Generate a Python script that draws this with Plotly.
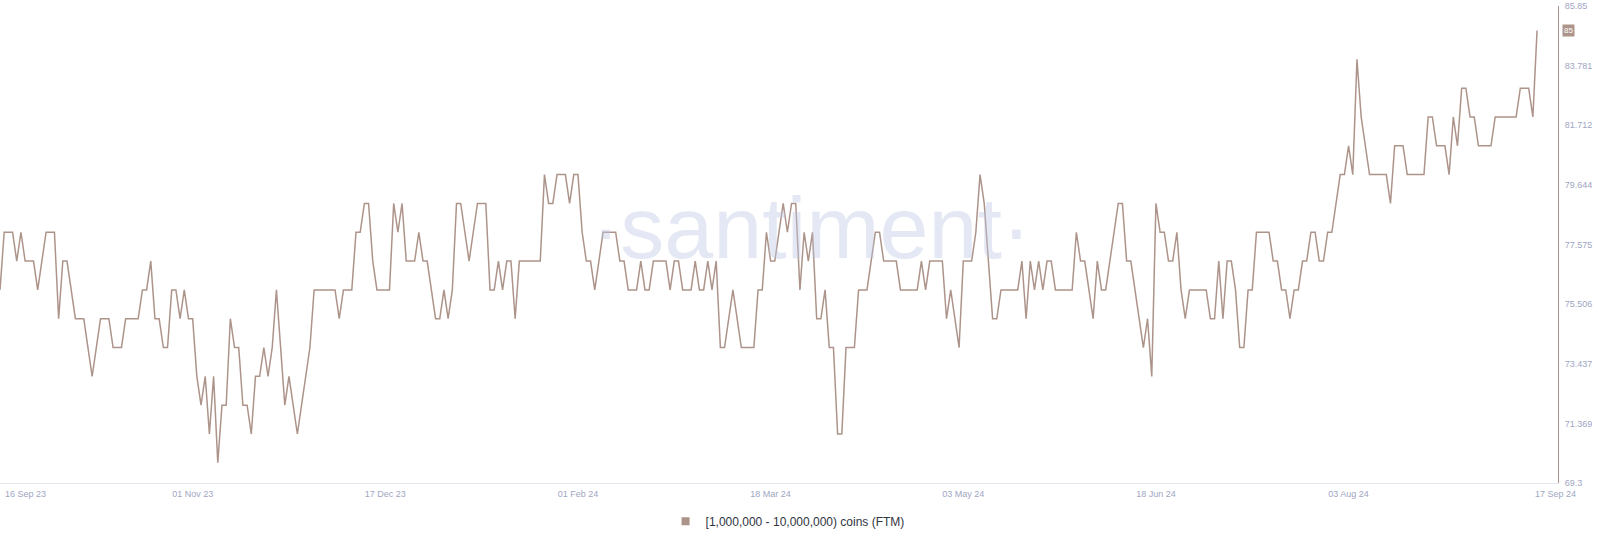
import pandas as pd
import plotly.graph_objects as go

# ---------------- data ----------------
start_date = "2023-09-16"
series_name = "[1,000,000 - 10,000,000) coins (FTM)"

holders = [
    76, 78, 78, 78, 77, 78, 77, 77, 77, 76,
    77, 78, 78, 78, 75, 77, 77, 76, 75, 75,
    75, 74, 73, 74, 75, 75, 75, 74, 74, 74,
    75, 75, 75, 75, 76, 76, 77, 75, 75, 74,
    74, 76, 76, 75, 76, 75, 75, 73, 72, 73,
    71, 73, 70, 72, 72, 75, 74, 74, 72, 72,
    71, 73, 73, 74, 73, 74, 76, 74, 72, 73,
    72, 71, 72, 73, 74, 76, 76, 76, 76, 76,
    76, 75, 76, 76, 76, 78, 78, 79, 79, 77,
    76, 76, 76, 76, 79, 78, 79, 77, 77, 77,
    78, 77, 77, 76, 75, 75, 76, 75, 76, 79,
    79, 78, 77, 78, 79, 79, 79, 76, 76, 77,
    76, 77, 77, 75, 77, 77, 77, 77, 77, 77,
    80, 79, 79, 80, 80, 80, 79, 80, 80, 78,
    77, 77, 76, 77, 78, 78, 78, 78, 77, 77,
    76, 76, 76, 77, 76, 76, 77, 77, 77, 77,
    76, 77, 77, 76, 76, 76, 77, 76, 76, 77,
    76, 77, 74, 74, 75, 76, 75, 74, 74, 74,
    74, 76, 76, 78, 77, 77, 78, 79, 78, 79,
    79, 76, 78, 77, 78, 75, 75, 76, 74, 74,
    71, 71, 74, 74, 74, 76, 76, 76, 77, 78,
    78, 77, 77, 77, 77, 76, 76, 76, 76, 76,
    77, 76, 77, 77, 77, 77, 75, 76, 75, 74,
    77, 77, 77, 78, 80, 79, 77, 75, 75, 76,
    76, 76, 76, 76, 77, 75, 77, 76, 77, 76,
    77, 77, 76, 76, 76, 76, 76, 78, 77, 77,
    76, 75, 77, 76, 76, 77, 78, 79, 79, 77,
    77, 76, 75, 74, 75, 73, 79, 78, 78, 77,
    77, 78, 76, 75, 76, 76, 76, 76, 76, 75,
    75, 77, 75, 77, 77, 76, 74, 74, 76, 76,
    78, 78, 78, 78, 77, 77, 76, 76, 75, 76,
    76, 77, 77, 78, 78, 77, 77, 78, 78, 79,
    80, 80, 81, 80, 84, 82, 81, 80, 80, 80,
    80, 80, 79, 81, 81, 81, 80, 80, 80, 80,
    80, 82, 82, 81, 81, 81, 80, 82, 81, 83,
    83, 82, 82, 81, 81, 81, 81, 82, 82, 82,
    82, 82, 82, 83, 83, 83, 82, 85,
]

x_tick_dates = ["2023-11-01", "2023-12-17", "2024-02-01", "2024-03-18",
                "2024-05-03", "2024-06-18", "2024-08-03"]
x_tick_text = ["01 Nov 23", "17 Dec 23", "01 Feb 24", "18 Mar 24",
               "03 May 24", "18 Jun 24", "03 Aug 24"]
first_label = "16 Sep 23"
last_label = "17 Sep 24"

y_tick_vals = [69.3, 71.369, 73.437, 75.506, 77.575, 79.644, 81.712, 83.781, 85.85]
y_tick_text = ["69.3", "71.369", "73.437", "75.506", "77.575", "79.644",
               "81.712", "83.781", "85.85"]

# ---------------- styles ----------------
LINE = "#ad948a"
TICK = "#a0a6c2"
FONT = "Liberation Sans, Arial, sans-serif"

dates = pd.date_range(start_date, periods=len(holders), freq="D")
x_end = dates[-1] + pd.Timedelta(days=5)

fig = go.Figure()
fig.add_trace(go.Scatter(
    x=dates, y=holders, mode="lines",
    line=dict(color=LINE, width=1.5),
    showlegend=False, hoverinfo="x+y",
))
# legend entry (square swatch)
fig.add_trace(go.Scatter(
    x=[None], y=[None], mode="markers", name=series_name,
    marker=dict(symbol="square", size=8, color=LINE),
    showlegend=True,
))

fig.update_layout(
    width=1600, height=542,
    margin=dict(l=0, r=42, t=6, b=59),
    paper_bgcolor="white", plot_bgcolor="white",
    font=dict(family=FONT, size=9, color=TICK),
    showlegend=True,
    legend=dict(
        orientation="h", x=0.5055, xanchor="center", y=-0.08, yanchor="middle",
        font=dict(family=FONT, size=12, color="#2f3441"),
        itemwidth=30,
    ),
    xaxis=dict(
        type="date",
        range=[dates[0], x_end],
        tickvals=x_tick_dates, ticktext=x_tick_text,
        showgrid=False, zeroline=False,
        showline=True, linecolor="#e5e7ee", linewidth=1,
        ticks="", tickfont=dict(size=9, color=TICK),
        ticklabelstandoff=2,
    ),
    yaxis=dict(
        side="right",
        range=[69.3, 85.85],
        tickvals=y_tick_vals, ticktext=y_tick_text,
        showgrid=False, zeroline=False,
        showline=True, linecolor=LINE, linewidth=1,
        ticks="", tickfont=dict(size=9, color=TICK),
        ticklabelstandoff=4,
    ),
)

# edge date labels (clamped inside the canvas as in the original)
fig.add_annotation(
    text=first_label, xref="paper", yref="paper", x=0, y=0,
    xanchor="left", yanchor="top", xshift=3, yshift=-4, showarrow=False,
    font=dict(family=FONT, size=9, color=TICK),
)
fig.add_annotation(
    text=last_label, xref="paper", yref="paper", x=1, y=0,
    xanchor="center", yanchor="top", xshift=-3, yshift=-4, showarrow=False,
    font=dict(family=FONT, size=9, color=TICK),
)

# last-value tag on the y axis
fig.add_annotation(
    text=str(holders[-1]), xref="paper", yref="y", x=1, y=holders[-1],
    xanchor="left", yanchor="middle", xshift=4, showarrow=False,
    bgcolor=LINE, borderpad=1,
    font=dict(family=FONT, size=8, color="white"),
)

# watermark
fig.add_annotation(
    text="·santiment·", xref="paper", yref="paper", x=0.5205, y=0.535,
    xanchor="center", yanchor="middle", showarrow=False,
    font=dict(family="Liberation Sans, Arial, sans-serif",
              size=88, color="rgb(190,200,228)"),
    opacity=0.4,
)

fig.write_html(
    "out.html",
    config={"displayModeBar": False},
    post_script="document.body.style.margin='0';document.body.style.overflow='hidden';",
)
